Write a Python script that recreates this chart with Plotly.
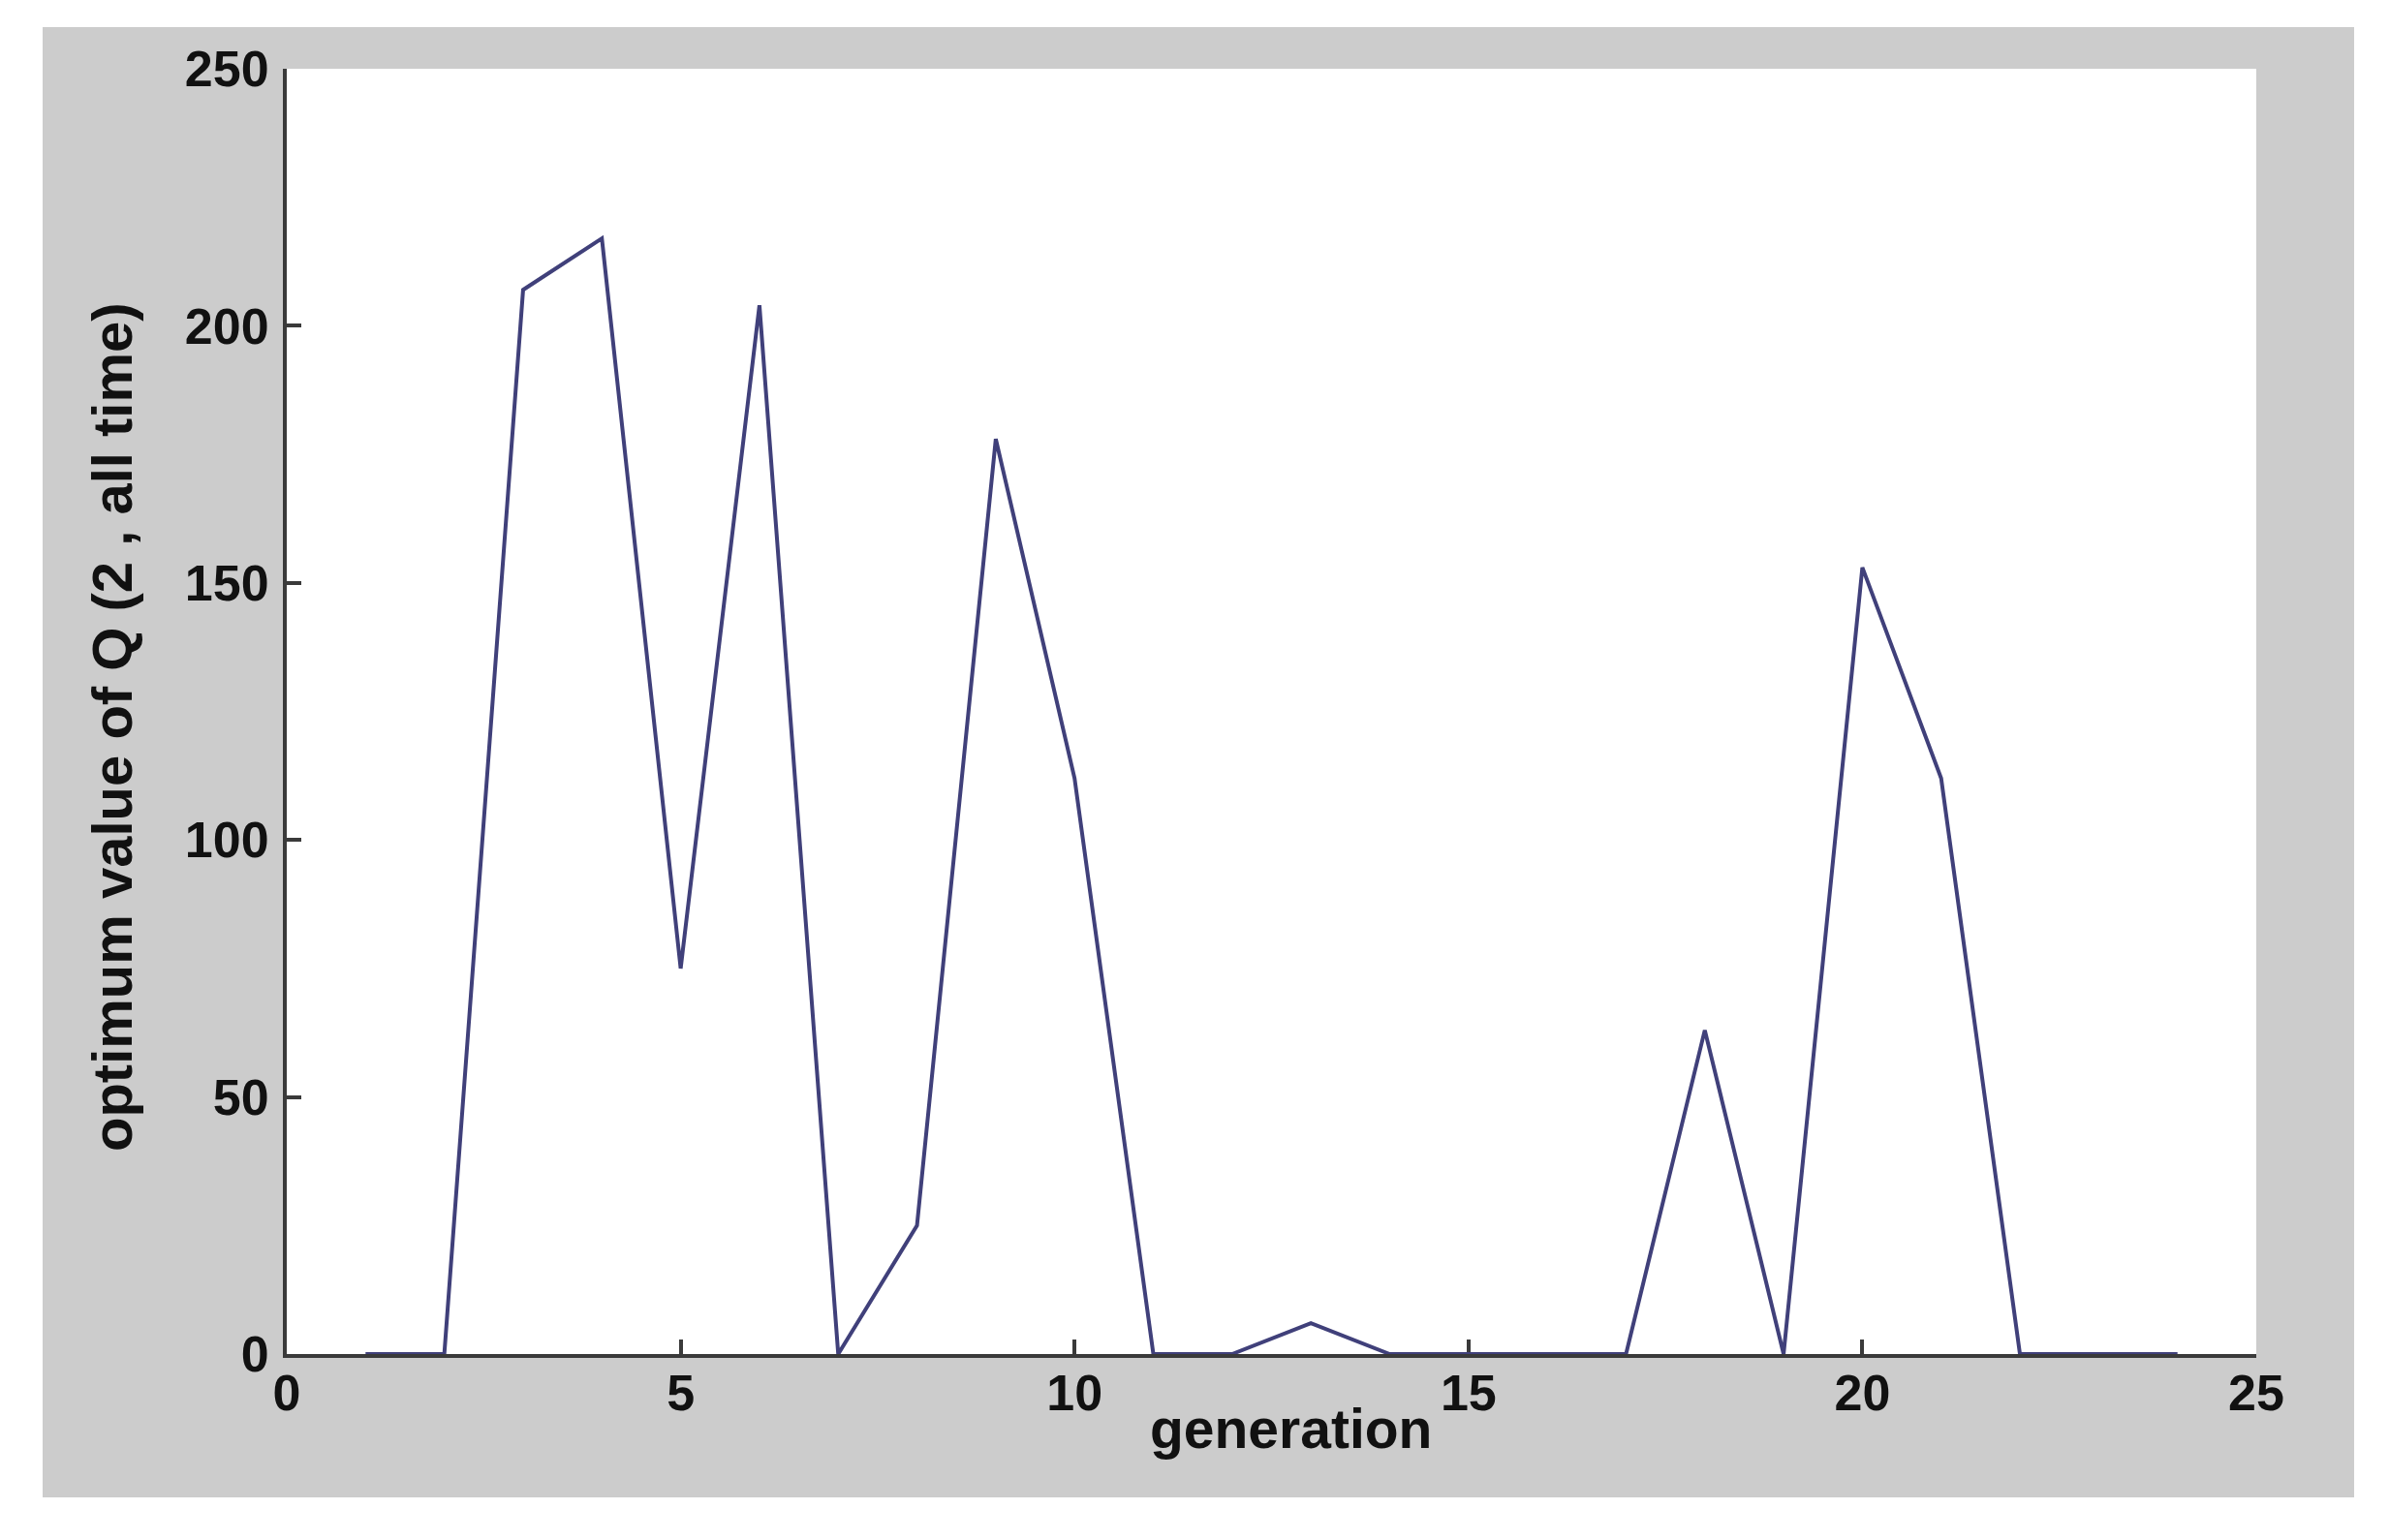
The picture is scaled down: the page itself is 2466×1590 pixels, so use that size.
import plotly.graph_objects as GO

# generation index and optimum Q(2, all time) values
generation = [1, 2, 3, 4, 5, 6, 7, 8, 9, 10, 11, 12,
              13, 14, 15, 16, 17, 18, 19, 20, 21, 22, 23, 24]
q_value = [0, 0, 207, 217, 75, 204, 0, 25, 178, 112, 0, 0,
           6, 0, 0, 0, 0, 63, 0, 153, 112, 0, 0, 0]

x_ticks = [0, 5, 10, 15, 20, 25]
y_ticks = [0, 50, 100, 150, 200, 250]

FONT = "Liberation Sans, Arial"
W, H = 2466, 1590
OFF = 8  # page body margin
L, R, T, B = 296 - OFF, 137 + OFF, 71 - OFF, 192 + OFF
PW, PH = W - L - R, H - T - B


def px_x(v):
  # page pixel -> paper fraction
  return (v - OFF - L) / PW


def px_y(v):
  return (H - B - (v - OFF)) / PH


def main():
  fig = GO.Figure()

  fig.add_trace(GO.Scatter(
      x=generation, y=q_value,
      mode="lines",
      line=dict(color="#40407a", width=4),
      showlegend=False
  ))

  # grey figure window, then the white axes box on top of it
  fig.add_shape(
      type="rect", xref="paper", yref="paper",
      x0=px_x(44), x1=px_x(2430), y0=px_y(1546), y1=px_y(28),
      fillcolor="#cccccc", line=dict(width=0), layer="below"
  )
  fig.add_shape(
      type="rect", xref="paper", yref="paper",
      x0=0, x1=1, y0=0, y1=1,
      fillcolor="white", line=dict(width=0), layer="below"
  )

  axis_common = dict(
      showgrid=False, zeroline=False,
      showline=True, linecolor="#3a3a3a", linewidth=4,
      ticks="inside", ticklen=15, tickwidth=4, tickcolor="#3a3a3a",
      tickfont=dict(family=FONT, size=52, color="#111111", weight="bold"),
      layer="below traces", fixedrange=True
  )

  fig.update_xaxes(range=[0, 25], tickvals=x_ticks,
                   ticklabelstandoff=-8, **axis_common)
  fig.update_yaxes(range=[0, 250], tickvals=y_ticks,
                   ticklabelstandoff=4, **axis_common)

  fig.add_annotation(
      text="generation", xref="paper", yref="paper",
      x=px_x(1332), y=px_y(1475), xanchor="center", yanchor="middle",
      showarrow=False,
      font=dict(family=FONT, size=57, color="#111111", weight="bold")
  )
  fig.add_annotation(
      text="optimum value of Q (2 , all time)", xref="paper", yref="paper",
      x=px_x(115), y=px_y(751), xanchor="center", yanchor="middle",
      textangle=-90, showarrow=False,
      font=dict(family=FONT, size=58, color="#111111", weight="bold")
  )

  fig.update_layout(
      width=W, height=H,
      margin=dict(l=L, r=R, t=T, b=B),
      paper_bgcolor="white",
      plot_bgcolor="white",
      showlegend=False
  )

  fig.write_html("out.html")


if __name__ == "__main__":
  main()
